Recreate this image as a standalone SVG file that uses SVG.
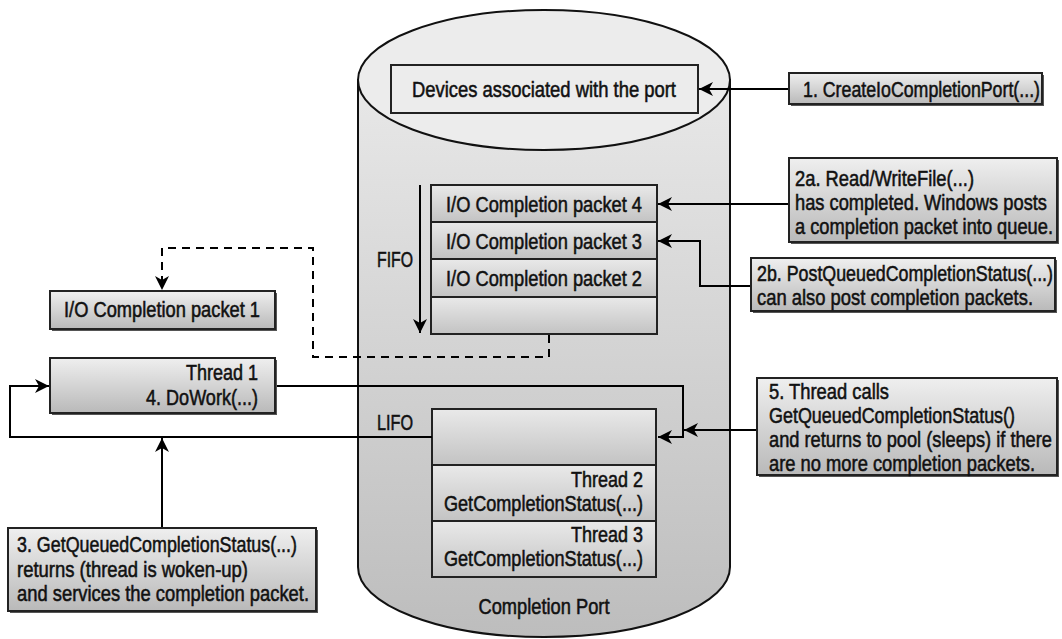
<svg xmlns="http://www.w3.org/2000/svg" width="1062" height="639" viewBox="0 0 1062 639">
<defs>
<linearGradient id="gBox" x1="0" y1="0" x2="0" y2="1"><stop offset="0" stop-color="#efefef"/><stop offset="1" stop-color="#b9b9b9"/></linearGradient>
<linearGradient id="gRow" x1="0" y1="0" x2="0" y2="1"><stop offset="0" stop-color="#e9e9e9"/><stop offset="1" stop-color="#c3c3c3"/></linearGradient>
<linearGradient id="gCyl" x1="0" y1="0" x2="0" y2="1"><stop offset="0" stop-color="#e8e8e8"/><stop offset="1" stop-color="#bdbdbd"/></linearGradient>
<marker id="ah" markerUnits="userSpaceOnUse" markerWidth="16" markerHeight="14" refX="14" refY="7" orient="auto"><path d="M0,0 L14,7 L0,14 L4,7 Z" fill="#000"/></marker>
<style>
text{font-family:"Liberation Sans",Arial,sans-serif;font-size:22px;fill:#111;stroke:#111;stroke-width:0.55px}
.c{text-anchor:middle}.r{text-anchor:end}
.box{fill:url(#gBox);stroke:#222;stroke-width:2}
.sh{fill:#555}
.row{fill:url(#gRow);stroke:#222;stroke-width:2}
.ln{fill:none;stroke:#000;stroke-width:2}
.dash{fill:none;stroke:#000;stroke-width:2;stroke-dasharray:8,6}
</style>
</defs>
<rect width="1062" height="639" fill="#fff"/>
<g id="completion-port">
<path d="M358,80 L358,567 A186,70 0 0 0 730,567 L730,80 Z" fill="url(#gCyl)" stroke="#111" stroke-width="2"/>
<ellipse cx="544" cy="80" rx="186" ry="70" fill="#ececec" stroke="#111" stroke-width="2"/>
<text class="c" x="544" y="614" textLength="131" lengthAdjust="spacingAndGlyphs">Completion Port</text>
</g>
<g id="devices">
<rect x="391" y="65" width="307" height="48" fill="none" stroke="#222" stroke-width="2"/>
<text class="c" x="544" y="97" textLength="264" lengthAdjust="spacingAndGlyphs">Devices associated with the port</text>
</g>
<g id="fifo-queue">
<rect class="row" x="431" y="185" width="226" height="37"/>
<rect class="row" x="431" y="222" width="226" height="37"/>
<rect class="row" x="431" y="259" width="226" height="38"/>
<rect class="row" x="431" y="297" width="226" height="37"/>
<text class="c" x="544" y="212" textLength="196" lengthAdjust="spacingAndGlyphs">I/O Completion packet 4</text>
<text class="c" x="544" y="249" textLength="196" lengthAdjust="spacingAndGlyphs">I/O Completion packet 3</text>
<text class="c" x="544" y="286" textLength="196" lengthAdjust="spacingAndGlyphs">I/O Completion packet 2</text>
<text class="r" x="413" y="267" textLength="36" lengthAdjust="spacingAndGlyphs">FIFO</text>
</g>
<g id="lifo-stack">
<rect class="row" x="432" y="409" width="224" height="56"/>
<rect class="row" x="432" y="465" width="224" height="56"/>
<rect class="row" x="432" y="521" width="224" height="56"/>
<text class="r" x="643" y="487" textLength="72" lengthAdjust="spacingAndGlyphs">Thread 2</text>
<text class="r" x="643" y="511" textLength="199" lengthAdjust="spacingAndGlyphs">GetCompletionStatus(...)</text>
<text class="r" x="643" y="542" textLength="72" lengthAdjust="spacingAndGlyphs">Thread 3</text>
<text class="r" x="643" y="566" textLength="199" lengthAdjust="spacingAndGlyphs">GetCompletionStatus(...)</text>
<text class="r" x="413" y="430" textLength="36" lengthAdjust="spacingAndGlyphs">LIFO</text>
</g>
<g id="connectors">
<path class="ln" d="M420,185 L420,333" marker-end="url(#ah)"/>
<path class="ln" d="M789,89 L699,89" marker-end="url(#ah)"/>
<path class="ln" d="M789,204 L658,204" marker-end="url(#ah)"/>
<path class="ln" d="M751,286 L700,286 L700,241 L658,241" marker-end="url(#ah)"/>
<path class="dash" d="M549,335 L549,357 L313,357 L313,248 L162,248 L162,290" marker-end="url(#ah)"/>
<path class="ln" d="M275,386 L683,386 L683,437 L658,437" marker-end="url(#ah)"/>
<path class="ln" d="M757,430 L684,430" marker-end="url(#ah)"/>
<path class="ln" d="M432,437 L10,437 L10,386 L49,386" marker-end="url(#ah)"/>
<path class="ln" d="M162,528 L162,438" marker-end="url(#ah)"/>
</g>
<g id="step1">
<rect class="sh" x="791" y="75" width="253" height="31"/>
<rect class="box" x="789" y="73" width="253" height="31"/>
<text x="803" y="97" textLength="237" lengthAdjust="spacingAndGlyphs">1. CreateIoCompletionPort(...)</text>
</g>
<g id="step2a">
<rect class="sh" x="791" y="160" width="268" height="84"/>
<rect class="box" x="789" y="158" width="268" height="84"/>
<text x="795" y="186" textLength="179" lengthAdjust="spacingAndGlyphs">2a. Read/WriteFile(...)</text>
<text x="795" y="210" textLength="252" lengthAdjust="spacingAndGlyphs">has completed. Windows posts</text>
<text x="795" y="234" textLength="258" lengthAdjust="spacingAndGlyphs">a completion packet into queue.</text>
</g>
<g id="step2b">
<rect class="sh" x="753" y="260" width="304" height="53"/>
<rect class="box" x="751" y="258" width="304" height="53"/>
<text x="757" y="281" textLength="296" lengthAdjust="spacingAndGlyphs">2b. PostQueuedCompletionStatus(...)</text>
<text x="757" y="305" textLength="276" lengthAdjust="spacingAndGlyphs">can also post completion packets.</text>
</g>
<g id="step5">
<rect class="sh" x="759" y="380" width="300" height="97"/>
<rect class="box" x="757" y="378" width="300" height="97"/>
<text x="769" y="399" textLength="120" lengthAdjust="spacingAndGlyphs">5. Thread calls</text>
<text x="769" y="423" textLength="246" lengthAdjust="spacingAndGlyphs">GetQueuedCompletionStatus()</text>
<text x="769" y="447" textLength="283" lengthAdjust="spacingAndGlyphs">and returns to pool (sleeps) if there</text>
<text x="769" y="471" textLength="266" lengthAdjust="spacingAndGlyphs">are no more completion packets.</text>
</g>
<g id="packet1">
<rect class="sh" x="52" y="293" width="225" height="38"/>
<rect class="box" x="50" y="291" width="225" height="38"/>
<text class="c" x="162" y="317" textLength="196" lengthAdjust="spacingAndGlyphs">I/O Completion packet 1</text>
</g>
<g id="thread1">
<rect class="sh" x="52" y="360" width="225" height="55"/>
<rect class="box" x="50" y="358" width="225" height="55"/>
<text class="r" x="258" y="380" textLength="72" lengthAdjust="spacingAndGlyphs">Thread 1</text>
<text class="r" x="258" y="405" textLength="112" lengthAdjust="spacingAndGlyphs">4. DoWork(...)</text>
</g>
<g id="step3">
<rect class="sh" x="10" y="530" width="308" height="83"/>
<rect class="box" x="8" y="528" width="308" height="83"/>
<text x="17" y="552" textLength="280" lengthAdjust="spacingAndGlyphs">3. GetQueuedCompletionStatus(...)</text>
<text x="17" y="577" textLength="231" lengthAdjust="spacingAndGlyphs">returns (thread is woken-up)</text>
<text x="17" y="601" textLength="292" lengthAdjust="spacingAndGlyphs">and services the completion packet.</text>
</g>
</svg>
